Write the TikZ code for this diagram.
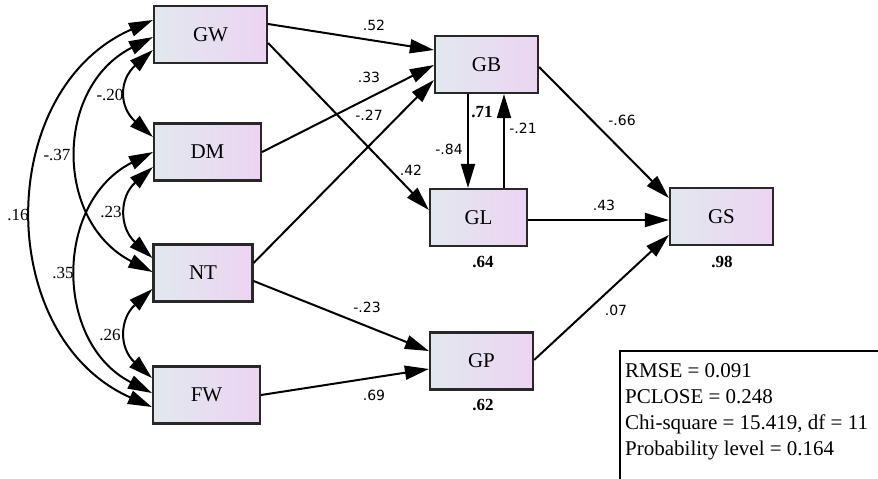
\documentclass[tikz,border=0pt]{standalone}
\usepackage{fontspec}
\setmainfont{Liberation Serif}
\newfontfamily\labelfont{DejaVu Sans}
\usetikzlibrary{arrows.meta,calc}

\definecolor{boxleft}{RGB}{226,232,238}
\definecolor{boxright}{RGB}{236,212,243}
\definecolor{boxline}{RGB}{40,40,40}

\tikzset{
  var/.style={draw=boxline, line width=2.2pt, left color=boxleft, right color=boxright,
    minimum height=57pt, inner sep=0pt, font=\fontsize{21}{24}\selectfont},
  path/.style={line width=2pt, -{Triangle[length=24pt,width=14pt]}},
  cov/.style={line width=2pt, {Triangle[length=24pt,width=14pt]}-{Triangle[length=24pt,width=14pt]}},
  coef/.style={inner sep=0pt, font=\labelfont\fontsize{14}{16}\selectfont},
  covcoef/.style={inner sep=0pt, font=\fontsize{17}{19}\selectfont},
  rsq/.style={inner sep=0pt, font=\bfseries\fontsize{17}{19}\selectfont},
}

\begin{document}
\begin{tikzpicture}[x=1pt, y=-1pt]
\useasboundingbox (0,0) rectangle (878,479);

% observed variables
\node[var, minimum width=113pt] (GW) at (210.5,34.5) {GW};
\node[var, minimum width=107pt] (DM) at (207.5,152) {DM};
\node[var, minimum width=99pt]  (NT) at (203,273) {NT};
\node[var, minimum width=107pt] (FW) at (206.5,395) {FW};
\node[var, minimum width=103pt] (GB) at (486.5,64.5) {GB};
\node[var, minimum width=97pt]  (GL) at (478.5,217.5) {GL};
\node[var, minimum width=103pt] (GS) at (721.5,216.5) {GS};
\node[var, minimum width=103pt] (GP) at (481.5,361) {GP};

% squared multiple correlations
\node[rsq] (rGL) at (483,262) {.64};
\node[rsq] (rGS) at (722,262) {.98};
\node[rsq] (rGP) at (483,405) {.62};

% regression paths
\draw[path] ($(GW.east)+(0,-10.5)$) -- ($(GB.west)+(0,-14.5)$);
\draw[path] ($(GW.east)+(0,8.5)$) -- ($(GL.west)+(0,-7.5)$);
\draw[path] (DM.east) -- ($(GB.west)+(0,0.5)$);
\draw[path] ($(NT.east)+(0,-10)$) -- ($(GB.west)+(0,15.5)$);
\draw[path] ($(NT.east)+(0,8)$) -- ($(GP.west)+(0,-10)$);
\draw[path] (FW.east) -- ($(GP.west)+(0,8)$);
\draw[path] ($(GB.south)+(-18.5,0)$) -- ($(GL.north)+(-10.5,0)$);
\draw[path] ($(GL.north)+(25.5,0)$) -- ($(GB.south)+(17.5,0)$);
\draw[path] ($(GB.east)+(0,2.5)$) -- ($(GS.west)+(0,-18.5)$);
\draw[path] ($(GL.east)+(0,2.5)$) -- ($(GS.west)+(0,3.5)$);
\draw[path] ($(GP.east)+(0,-1)$) -- ($(GS.west)+(0,18.5)$);

\node[coef] (c1) at (374,25) {.52};
\node[coef] (c2) at (369,77) {.33};
\node[coef] (c3) at (369,115) {-.27};
\node[coef] (c4) at (411,170) {.42};
\node[coef] (c5) at (449,149) {-.84};
\node[rsq]  (c6) at (482,112) {.71};
\node[coef] (c7) at (523,128) {-.21};
\node[coef] (c8) at (622,120) {-.66};
\node[coef] (c9) at (604,205) {.43};
\node[coef] (c10) at (616,310) {.07};
\node[coef] (c11) at (367,307) {-.23};
\node[coef] (c12) at (374,395) {.69};

% covariances between the exogenous variables
\draw[cov] ($(GW.west)+(0,-14.5)$) .. controls +(-159,70) and +(-158,-70) .. ($(FW.west)+(0,12)$);
\draw[cov] ($(GW.west)+(0,2.5)$) .. controls +(-99,50) and +(-98,-50) .. ($(NT.west)+(0,-1)$);
\draw[cov] ($(GW.west)+(0,15.5)$) .. controls +(-34,30) and +(-34,-30) .. ($(DM.west)+(0,-15)$);
\draw[cov] (DM.west) .. controls +(-99,50) and +(-98,-50) .. ($(FW.west)+(0,-2)$);
\draw[cov] ($(DM.west)+(0,15)$) .. controls +(-34,30) and +(-33,-30) .. ($(NT.west)+(0,-15)$);
\draw[cov] ($(NT.west)+(0,16)$) .. controls +(-33,30) and +(-33,-30) .. ($(FW.west)+(0,-17)$);

\node[covcoef] (k1) at (18,215) {.16};
\node[covcoef] (k2) at (57,155) {-.37};
\node[covcoef] (k3) at (110,95) {-.20};
\node[covcoef] (k4) at (63,273) {.35};
\node[covcoef] (k5) at (111,212) {.23};
\node[covcoef] (k6) at (110,335) {.26};

% model fit summary
\node[draw, line width=1.5pt, anchor=north west, minimum width=280pt, minimum height=160pt] (fitbox) at (619,350) {};
\node[anchor=north west, inner sep=0pt, align=left, font=\fontsize{21}{26}\selectfont] (fit) at (625,363)
  {RMSE = 0.091\\PCLOSE = 0.248\\Chi-square = 15.419, df = 11\\Probability level = 0.164};
\end{tikzpicture}
\end{document}
